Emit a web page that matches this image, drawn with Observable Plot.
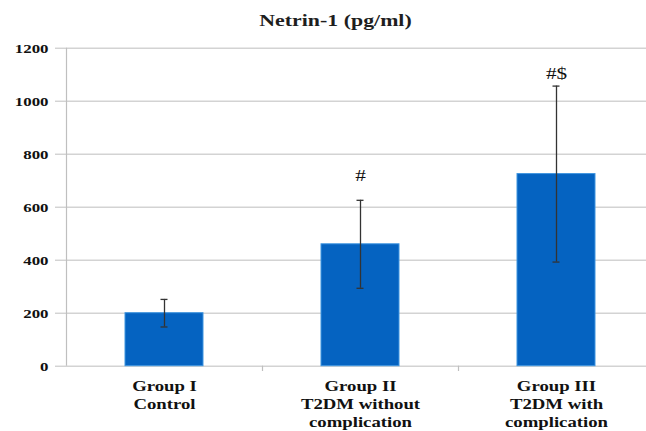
<!DOCTYPE html>
<html>
<head>
<meta charset="utf-8">
<script src="https://cdn.jsdelivr.net/npm/d3@7"></script>
<script src="https://cdn.jsdelivr.net/npm/@observablehq/plot@0.6"></script>
<style>
  html, body { margin: 0; padding: 0; background: #fff; }
  #chart { width: 646px; height: 431px; overflow: hidden; }
  #chart svg, #chart svg text, #chart svg tspan { font-family: "Liberation Serif", "Times New Roman", serif !important; }
</style>
</head>
<body>
<div id="chart"></div>
<script>
// ---- data ----
const title = "Netrin-1 (pg/ml)";
const groups = ["Group I", "Group II", "Group III"];
const groupLabels = ["Group I\nControl", "Group II\nT2DM without\ncomplication", "Group III\nT2DM with\ncomplication"];
const means = [200, 460, 725];
const sds = [52, 166, 332];
const sigLabels = ["", "#", "#$"];
const sigY = [null, 720, 1106];
const yTicks = [0, 200, 400, 600, 800, 1000, 1200];

const data = groups.map((g, i) => ({group: g, label: groupLabels[i], mean: means[i], sd: sds[i], sig: sigLabels[i], sigY: sigY[i]}));
const sigData = data.filter(d => d.sig);

const W = 646, H = 431;
const xRange = [66, 654];
const step = (xRange[1] - xRange[0]) / groups.length;
const grid = "#d3d3d3";
const axisColor = "#bfbfbf";
const errColor = "#333333";
const serif = "Liberation Serif";

const chart = Plot.plot({
  width: W,
  height: H,
  marginLeft: 66,
  marginRight: 0,
  marginTop: 47.7,
  marginBottom: 65.3,
  style: {fontFamily: serif, background: "#fff", color: "#111", overflow: "visible"},
  x: {type: "band", domain: groups, range: xRange, paddingInner: 0.6, paddingOuter: 0.3, align: 0.5, axis: null},
  y: {domain: [0, 1200], axis: null},
  marks: [
    Plot.gridY(yTicks, {stroke: grid, strokeOpacity: 1, strokeWidth: 1.4}),
    Plot.axisY(yTicks, {tickSize: 11, tickPadding: 7, stroke: axisColor, strokeOpacity: 1, fontFamily: serif, fontWeight: "bold", fontSize: 13.5, tickFormat: d => String(d)}),
    // vertical axis line at left edge of first category
    Plot.ruleX([groups[0]], {x: d => d, y1: 0, y2: 1200, dx: -step / 2, stroke: axisColor, strokeWidth: 1.2}),
    // category boundary tick marks below baseline
    Plot.ruleX(groups.slice(1), {x: d => d, y1: 0, y2: -20, dx: -step / 2, stroke: axisColor, strokeWidth: 1.2}),
    Plot.barY(data, {x: "group", y: "mean", fill: "#0563c1", stroke: "#3f95e0", strokeWidth: 1}),
    Plot.ruleX(data, {x: "group", y1: d => d.mean - d.sd, y2: d => d.mean + d.sd, stroke: errColor, strokeWidth: 1.3}),
    Plot.tickY(data, {x: "group", y: d => d.mean + d.sd, insetLeft: 35.5, insetRight: 35.5, stroke: errColor, strokeWidth: 1.3}),
    Plot.tickY(data, {x: "group", y: d => d.mean - d.sd, insetLeft: 35.5, insetRight: 35.5, stroke: errColor, strokeWidth: 1.3}),
    Plot.text(sigData, {x: "group", y: "sigY", text: "sig", fontFamily: serif, fontSize: 17, lineAnchor: "middle", fill: "#111"}),
    Plot.text(data, {x: "group", text: "label", frameAnchor: "bottom", lineAnchor: "top", dy: 12.5, fontFamily: serif, fontWeight: "bold", fontSize: 15, lineHeight: 1.19, fill: "#111"}),
    Plot.text([title], {frameAnchor: "top", text: d => d, dx: -21, dy: -22.7, lineAnchor: "bottom", fontFamily: serif, fontSize: 17.5, fontWeight: "bold", fill: "#1e1e1e"})
  ]
});

// the reference text is horizontally stretched; widen each label about its anchor point
const S = 1.25;
chart.querySelectorAll("text").forEach(t => {
  const xa = t.getAttribute("x");
  const xv = xa != null && !isNaN(+xa) ? +xa : 0;
  if (xa != null) t.removeAttribute("x");
  const tr = t.getAttribute("transform") || "";
  t.setAttribute("transform", `${tr}${xv ? ` translate(${xv},0)` : ""} scale(${S},1)`);
});

document.getElementById("chart").appendChild(chart);
</script>
</body>
</html>
